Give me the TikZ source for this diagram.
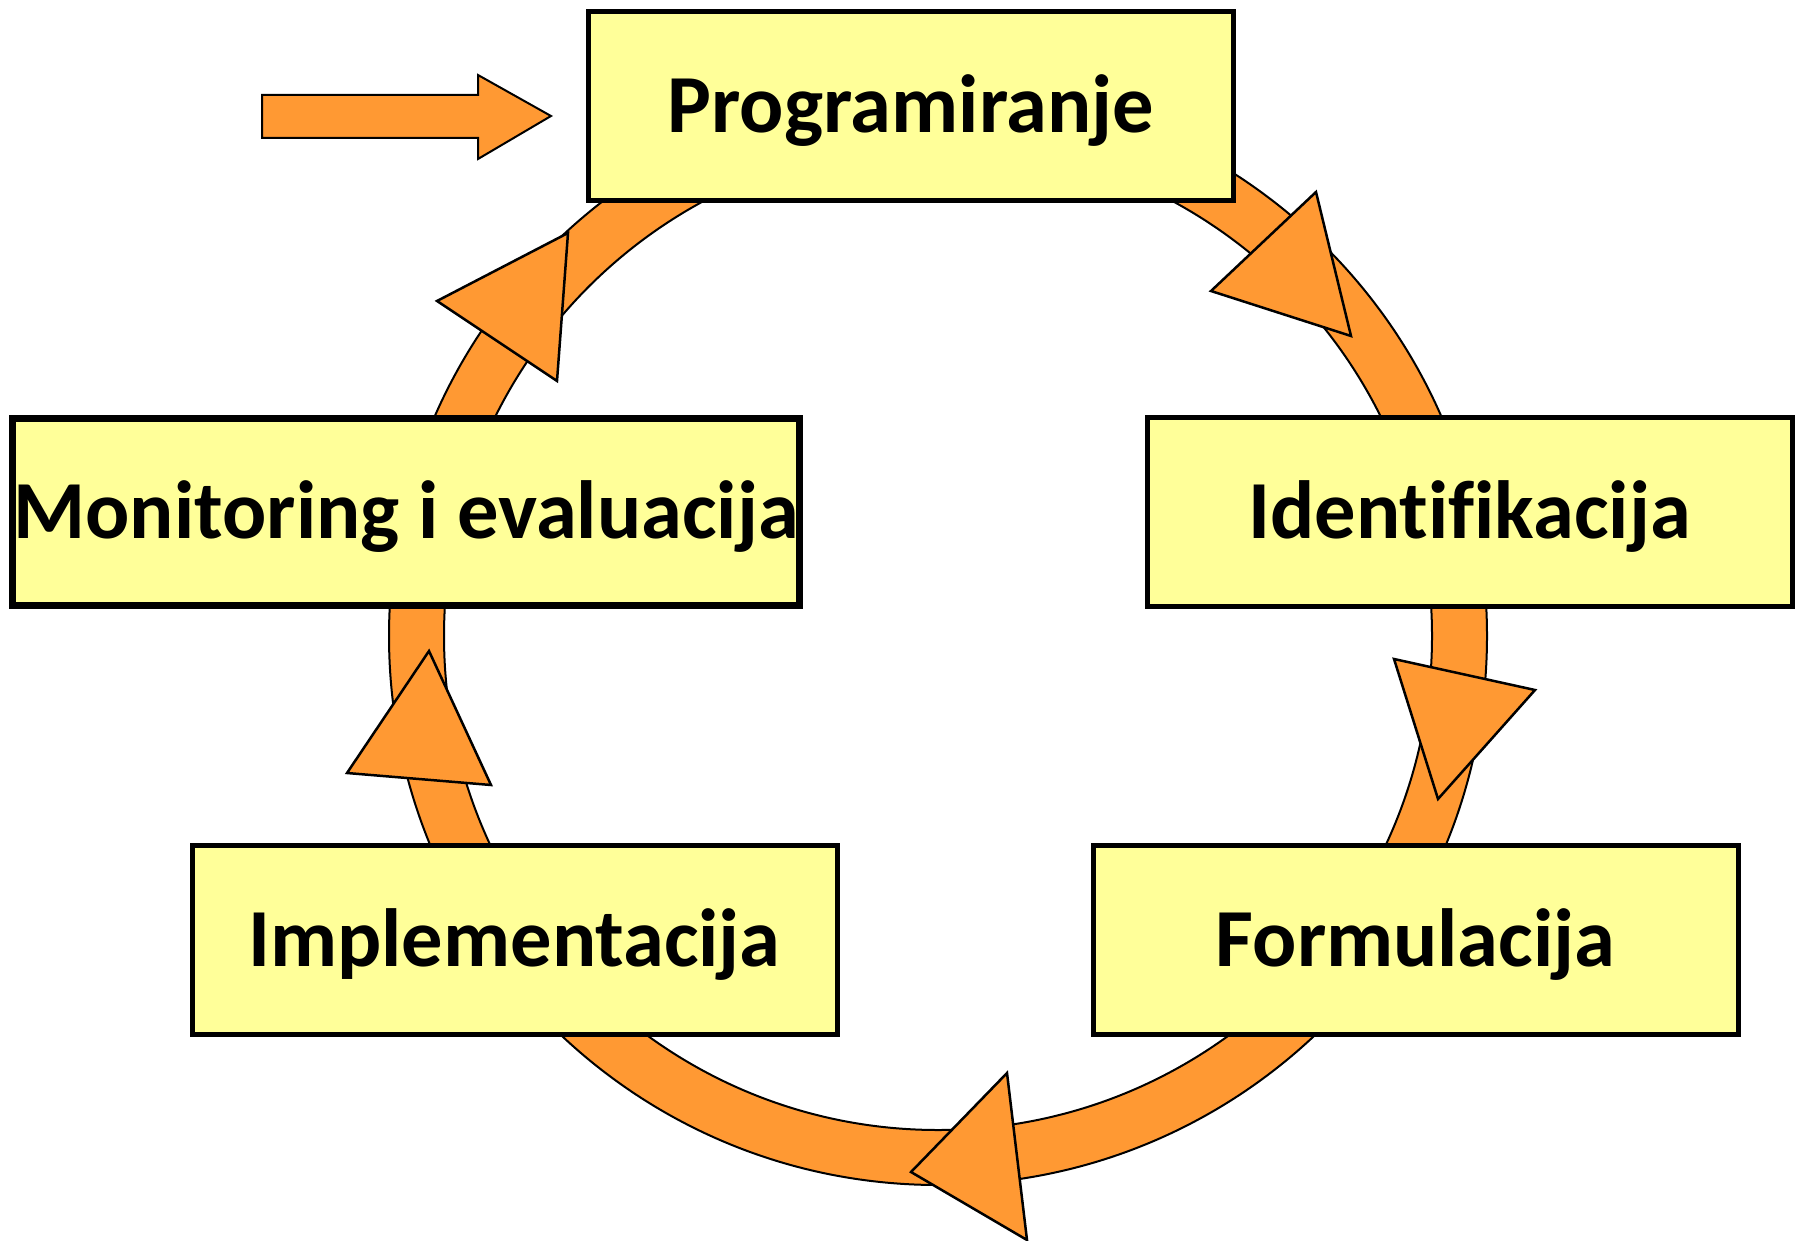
\documentclass[tikz,border=0pt]{standalone}
\usepackage{fontspec}
\setmainfont[Ligatures=NoCommon]{Carlito}
\usetikzlibrary{positioning}
\definecolor{ringorange}{HTML}{FF9933}
\definecolor{boxyellow}{HTML}{FFFF99}

\begin{document}
\begin{tikzpicture}[x=1pt, y=-1pt,
    phase/.style={draw, line width=5pt, fill=boxyellow, minimum width=645pt,
        minimum height=189pt, inner sep=0pt, text height=53pt, text depth=0pt,
        font=\fontsize{82.5}{99}\selectfont\bfseries},
    tip/.style={draw, line width=2.5pt, fill=ringorange, line join=miter}]
    \useasboundingbox (0,0) rectangle (1803,1241);

    %the ring behind the boxes
    \coordinate (c) at (938,636);
    \fill[ringorange, even odd rule] (c) circle (549pt) (c) circle (494pt);
    \draw[line width=2pt] (c) circle (549pt) (c) circle (494pt);

    %arrow heads on the ring
    \draw[tip] (1316,192) -- (1211,291) -- (1351,336) -- cycle;
    \draw[tip] (1394,659) -- (1535,690) -- (1438,799) -- cycle;
    \draw[tip] (1007,1073) -- (911,1172) -- (1027,1240) -- cycle;
    \draw[tip] (429,651) -- (347,773) -- (491,785) -- cycle;
    \draw[tip] (568,233) -- (437,301) -- (557,381) -- cycle;

    %entry arrow
    \draw[tip, line width=2pt] (262,95) -- (478,95) -- (478,75) -- (551,116)
        -- (478,159) -- (478,138) -- (262,138) -- cycle;

    %define the phases
    \node[phase] (prog) at (911,106.5) {Programiranje};
    \node[phase, minimum width=787pt, minimum height=187pt, line width=6.5pt]
        (mon) at (406,512) {Monitoring i evaluacija};
    \node[phase] (ident) at (1469.5,512) {Identifikacija};
    \node[phase] (impl) at (514.5,940) {Implementacija};
    \node[phase] (form) at (1415.5,940) {Formulacija};
\end{tikzpicture}
\end{document}
